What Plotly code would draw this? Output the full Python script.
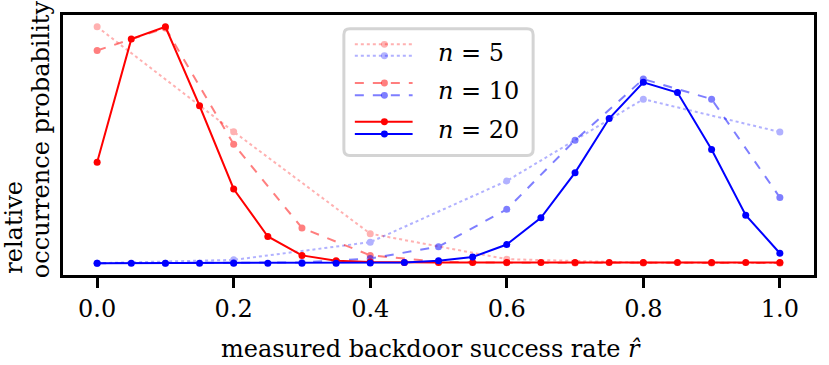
import plotly.graph_objects as go

# measured success rate bins for each sample size n
x5 = [0.0, 0.2, 0.4, 0.6, 0.8, 1.0]
x10 = [0.0, 0.1, 0.2, 0.3, 0.4, 0.5, 0.6, 0.7, 0.8, 0.9, 1.0]
x20 = [0.0, 0.05, 0.1, 0.15, 0.2, 0.25, 0.3, 0.35, 0.4, 0.45, 0.5,
       0.55, 0.6, 0.65, 0.7, 0.75, 0.8, 0.85, 0.9, 0.95, 1.0]

# relative occurrence probability (red = clean, blue = backdoored)
red5 = [1.0, 0.556, 0.125, 0.017, 0.002, 0.001]
blue5 = [0.0, 0.014, 0.089, 0.348, 0.694, 0.555]
red10 = [0.90, 0.995, 0.503, 0.149, 0.033, 0.006, 0.002, 0.001, 0.001, 0.001, 0.001]
blue10 = [0.0, 0.0, 0.002, 0.003, 0.02, 0.07, 0.228, 0.52, 0.779, 0.694, 0.278]
red20 = [0.427, 0.948, 1.0, 0.666, 0.314, 0.113, 0.033, 0.010, 0.005, 0.003, 0.003,
         0.003, 0.003, 0.003, 0.003, 0.003, 0.003, 0.003, 0.003, 0.003, 0.003]
blue20 = [0.0, 0.0, 0.0, 0.0, 0.0, 0.0, 0.0, 0.0, 0.001, 0.003, 0.01,
          0.026, 0.079, 0.192, 0.383, 0.612, 0.765, 0.722, 0.481, 0.203, 0.042]

labels = ["<i>n</i> = 5", "<i>n</i> = 10", "<i>n</i> = 20"]

RED = "#ff0000"
BLUE = "#0000ff"
FONT = "DejaVu Serif"
FS = 24

series = [
    (x5, red5, blue5, "dot", 0.3),
    (x10, red10, blue10, "dash", 0.5),
    (x20, red20, blue20, "solid", 1.0),
]

fig = go.Figure()
for xs, r, b, dash, op in series:
    for ys, col in ((r, RED), (b, BLUE)):
        fig.add_trace(go.Scatter(
            x=xs, y=ys, mode="lines+markers", opacity=op,
            line=dict(color=col, width=2, dash=dash),
            marker=dict(color=col, size=7),
            showlegend=False,
        ))

# plot area in pixels, used to convert legend geometry to paper coords
W, H = 829, 365
L, R, T, B = 63, 12, 12, 90
pw, ph = W - L - R, H - T - B


def px(x):
    return (x - L) / pw


def py(y):
    return (H - B - y) / ph


# hand-made legend (each entry has a red and a blue sample line)
bx0, bx1, by0, by1, rad = px(345), px(535), py(26), py(154), 6
rx, ry = rad / pw, rad / ph
path = (f"M {bx0+rx},{by0} L {bx1-rx},{by0} Q {bx1},{by0} {bx1},{by0-ry} "
        f"L {bx1},{by1+ry} Q {bx1},{by1} {bx1-rx},{by1} L {bx0+rx},{by1} "
        f"Q {bx0},{by1} {bx0},{by1+ry} L {bx0},{by0-ry} Q {bx0},{by0} {bx0+rx},{by0} Z")
fig.add_shape(type="path", path=path, xref="paper", yref="paper",
              line=dict(color="#d4d4d4", width=3), fillcolor="rgba(255,255,255,0.85)")

rows = [(41.7, 53.3, 50), (80.7, 93.3, 89), (120, 132.3, 128)]
for (yr, yb, yt), (_, _, _, dash, op), lab in zip(rows, series, labels):
    for yy, col in ((yr, RED), (yb, BLUE)):
        fig.add_shape(type="line", xref="paper", yref="paper",
                      x0=px(356), x1=px(414), y0=py(yy), y1=py(yy), opacity=op,
                      line=dict(color=col, width=2, dash=dash))
        fig.add_shape(type="circle", xref="paper", yref="paper",
                      x0=px(385.7 - 3.5), x1=px(385.7 + 3.5),
                      y0=py(yy + 3.5), y1=py(yy - 3.5), opacity=op,
                      fillcolor=col, line=dict(width=0))
    fig.add_annotation(x=px(437), y=py(yt), xref="paper", yref="paper",
                       text=lab, showarrow=False, xanchor="left", yanchor="middle",
                       font=dict(size=FS, color="black", family=FONT))

# axis titles
fig.add_annotation(x=px(432), y=py(350), xref="paper", yref="paper",
                   text="measured backdoor success rate <i>r̂</i>", showarrow=False,
                   xanchor="center", yanchor="middle",
                   font=dict(size=FS, color="black", family=FONT))
fig.add_annotation(x=px(13), y=py(227), xref="paper", yref="paper",
                   text="relative", textangle=-90, showarrow=False,
                   xanchor="center", yanchor="middle",
                   font=dict(size=FS, color="black", family=FONT))
fig.add_annotation(x=px(41), y=py(137.5), xref="paper", yref="paper",
                   text="occurrence probability", textangle=-90, showarrow=False,
                   xanchor="center", yanchor="middle",
                   font=dict(size=FS, color="black", family=FONT))

fig.update_xaxes(range=[-0.05, 1.05], tickvals=[0, 0.2, 0.4, 0.6, 0.8, 1.0],
                 ticktext=["0.0", "0.2", "0.4", "0.6", "0.8", "1.0"],
                 ticks="outside", ticklen=10, tickwidth=2.5, tickcolor="black",
                 showline=True, linecolor="black", linewidth=3, mirror=True,
                 showgrid=False, zeroline=False,
                 tickfont=dict(size=FS, color="black", family=FONT))
fig.update_yaxes(range=[-0.05, 1.05], showticklabels=False, ticks="",
                 showline=True, linecolor="black", linewidth=3, mirror=True,
                 showgrid=False, zeroline=False)

fig.update_layout(width=W, height=H, margin=dict(l=L, r=R, t=T, b=B),
                  plot_bgcolor="white", paper_bgcolor="white",
                  font=dict(family=FONT, color="black"))

# drop the default page margin so the figure sits at the window's corner
fig.write_html("out.html", config={"displayModeBar": False},
               post_script="document.body.style.margin='0';")
